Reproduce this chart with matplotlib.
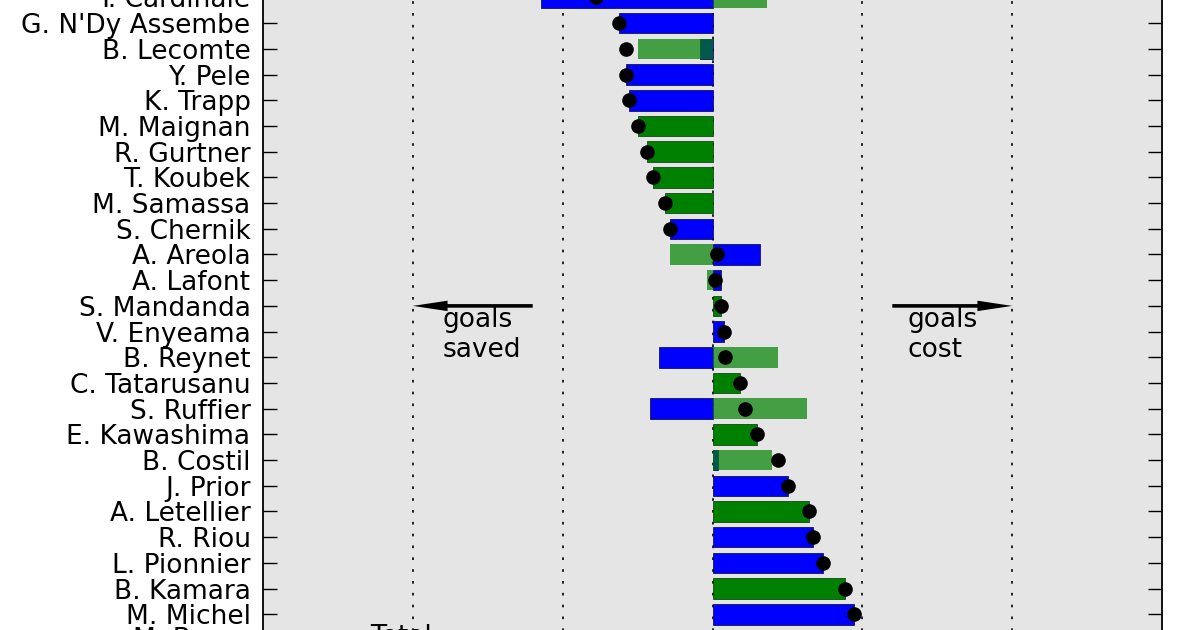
import numpy as np
import matplotlib
matplotlib.use("Agg")
import matplotlib.pyplot as plt

# ---- data (goals vs expected; negative = goals saved) ----
players = ["Y. Cardinale", "G. N'Dy Assembe", "B. Lecomte", "Y. Pele", "K. Trapp",
           "M. Maignan", "R. Gurtner", "T. Koubek", "M. Samassa", "S. Chernik",
           "A. Areola", "A. Lafont", "S. Mandanda", "V. Enyeama", "B. Reynet",
           "C. Tatarusanu", "S. Ruffier", "E. Kawashima", "B. Costil", "J. Prior",
           "A. Letellier", "R. Riou", "L. Pionnier", "B. Kamara", "M. Michel",
           "M. Baron"]
blue_vals = [-5.73, -3.12, -0.43, -2.90, -2.77,
             0.0, 0.0, 0.0, 0.0, -1.43,
             1.57, 0.30, 0.0, 0.37, -1.77,
             0.0, -2.10, 0.0, 0.20, 2.53,
             0.0, 3.37, 3.70, 0.0, 4.73,
             0.0]
green_vals = [1.83, 0.0, -2.47, 0.0, 0.0,
              -2.47, -2.20, -1.97, -1.60, 0.0,
              -1.43, -0.20, 0.30, 0.0, 2.20,
              0.93, 3.17, 1.47, 1.97, 0.0,
              3.23, 0.0, 0.0, 4.43, 0.0,
              0.0]
totals = [b + g for b, g in zip(blue_vals, green_vals)]
x_ticks = [-10, -5, 0, 5, 10]
left_note = "goals\nsaved"
right_note = "goals\ncost"
total_label = "Total"

fig = plt.figure(figsize=(12, 6.3), dpi=100)
# axes extends beyond the figure (the reference is a crop of a taller chart)
ax = fig.add_axes([263 / 1200, -0.2, (1162 - 263) / 1200, 1.4])
ax.set_facecolor("#e5e5e5")

rows = np.arange(len(players), dtype=float)
rows[-1] -= 0.1  # summary row sits a little closer
n_show = len(players) - 1  # last row only has a label (cut off)

for i in range(n_show):
    b = blue_vals[i]
    g = green_vals[i]
    if b != 0:
        ax.barh(rows[i], b, height=0.8, color="#0000ff", edgecolor="#000033",
                linewidth=0.5, zorder=2)
    if g != 0:
        a = 0.7 if b != 0 else 1.0
        ax.barh(rows[i], g, height=0.8, color="#008000", alpha=a,
                edgecolor="#003300" if a == 1.0 else "none", linewidth=0.5, zorder=3)
    ax.plot(totals[i], rows[i], "o", color="k", markersize=9.5, zorder=5)

ax.set_xlim(-15, 15)
# map rows to the pixel layout of the reference: pixel = -2.5 + 25.7*row
sp, off = 25.7, -2.5
ax.set_ylim((756 - off) / sp, (-126 - off) / sp)
ax.set_yticks(rows)
ax.set_yticklabels(players, fontsize=19)
ax.set_xticks(x_ticks)
ax.xaxis.grid(True, linestyle=(0, (1.6, 5.5)), color="k", linewidth=1.2)
ax.yaxis.grid(False)
ax.set_axisbelow(True)

ax.tick_params(axis="y", direction="in", length=10, width=1, left=True, right=True, pad=9)
ax.tick_params(axis="x", direction="in", length=10, width=1, top=True, bottom=True)
for s in ax.spines.values():
    s.set_linewidth(1.3)
    s.set_color("k")

# arrows with notes
ya = 12
ax.annotate("", xy=(-10, ya), xytext=(-6, ya),
            arrowprops=dict(facecolor="black", edgecolor="black", linewidth=0,
                            width=2.6, headwidth=7.5, headlength=25, shrink=0))
ax.annotate("", xy=(10, ya), xytext=(6, ya),
            arrowprops=dict(facecolor="black", edgecolor="black", linewidth=0,
                            width=2.6, headwidth=7.5, headlength=25, shrink=0))
ax.text(-9.0, ya + 0.05, left_note, fontsize=19, ha="left", va="top",
        linespacing=1.2)
ax.text(6.5, ya + 0.05, right_note, fontsize=19, ha="left", va="top",
        linespacing=1.2)

ax.text(-11.43, rows[-1], total_label, fontsize=19, ha="left", va="center")

fig.savefig("out.png", dpi=100)
